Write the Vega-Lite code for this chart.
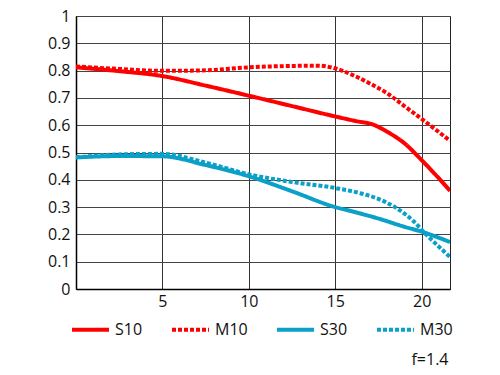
{
  "$schema": "https://vega.github.io/schema/vega-lite/v6.json",
  "width": 374,
  "height": 273,
  "autosize": "none",
  "padding": {"left": 76, "top": 16, "right": 50, "bottom": 86},
  "background": "white",
  "config": {
    "view": {"stroke": "#222", "strokeWidth": 1},
    "font": "Open Sans"
  },
  "data": {
    "values": [
      {"x": 0, "v": 0.812, "s": "S10"},
      {"x": 2.5, "v": 0.798, "s": "S10"},
      {"x": 5, "v": 0.78, "s": "S10"},
      {"x": 7.5, "v": 0.745, "s": "S10"},
      {"x": 10, "v": 0.708, "s": "S10"},
      {"x": 12.5, "v": 0.67, "s": "S10"},
      {"x": 15, "v": 0.632, "s": "S10"},
      {"x": 16.2, "v": 0.615, "s": "S10"},
      {"x": 17.2, "v": 0.602, "s": "S10"},
      {"x": 18, "v": 0.576, "s": "S10"},
      {"x": 19, "v": 0.534, "s": "S10"},
      {"x": 20, "v": 0.472, "s": "S10"},
      {"x": 21, "v": 0.405, "s": "S10"},
      {"x": 21.64, "v": 0.36, "s": "S10"},

      {"x": 0, "v": 0.815, "s": "M10"},
      {"x": 2.5, "v": 0.806, "s": "M10"},
      {"x": 5, "v": 0.799, "s": "M10"},
      {"x": 7.5, "v": 0.801, "s": "M10"},
      {"x": 10, "v": 0.812, "s": "M10"},
      {"x": 12.5, "v": 0.817, "s": "M10"},
      {"x": 14, "v": 0.818, "s": "M10"},
      {"x": 15, "v": 0.808, "s": "M10"},
      {"x": 16, "v": 0.784, "s": "M10"},
      {"x": 17, "v": 0.753, "s": "M10"},
      {"x": 18, "v": 0.717, "s": "M10"},
      {"x": 19, "v": 0.67, "s": "M10"},
      {"x": 20, "v": 0.623, "s": "M10"},
      {"x": 21.64, "v": 0.543, "s": "M10"},

      {"x": 0, "v": 0.482, "s": "S30"},
      {"x": 2.5, "v": 0.487, "s": "S30"},
      {"x": 5, "v": 0.486, "s": "S30"},
      {"x": 7.5, "v": 0.454, "s": "S30"},
      {"x": 10, "v": 0.413, "s": "S30"},
      {"x": 12.5, "v": 0.358, "s": "S30"},
      {"x": 15, "v": 0.3, "s": "S30"},
      {"x": 16, "v": 0.284, "s": "S30"},
      {"x": 17.5, "v": 0.258, "s": "S30"},
      {"x": 19, "v": 0.228, "s": "S30"},
      {"x": 20, "v": 0.21, "s": "S30"},
      {"x": 21.64, "v": 0.172, "s": "S30"},

      {"x": 0, "v": 0.482, "s": "M30"},
      {"x": 2.5, "v": 0.493, "s": "M30"},
      {"x": 5, "v": 0.495, "s": "M30"},
      {"x": 7.5, "v": 0.463, "s": "M30"},
      {"x": 10, "v": 0.42, "s": "M30"},
      {"x": 12.5, "v": 0.392, "s": "M30"},
      {"x": 15, "v": 0.37, "s": "M30"},
      {"x": 16.5, "v": 0.35, "s": "M30"},
      {"x": 17.5, "v": 0.33, "s": "M30"},
      {"x": 18.5, "v": 0.298, "s": "M30"},
      {"x": 19.5, "v": 0.25, "s": "M30"},
      {"x": 20.25, "v": 0.2, "s": "M30"},
      {"x": 21, "v": 0.155, "s": "M30"},
      {"x": 21.64, "v": 0.117, "s": "M30"}
    ]
  },
  "mark": {"type": "line", "strokeWidth": 4, "interpolate": "monotone", "clip": true},
  "encoding": {
    "x": {
      "field": "x", "type": "quantitative",
      "scale": {"domain": [0, 21.64], "nice": false, "zero": false},
      "axis": {
        "values": [5, 10, 15, 20],
        "grid": true, "gridColor": "#333", "gridWidth": 1,
        "domain": true, "domainColor": "#000", "domainWidth": 1.5,
        "ticks": false, "labelPadding": 4,
        "labelFontSize": 16, "labelFontWeight": 500, "labelColor": "#111",
        "title": "f=1.4", "titleFontSize": 16, "titleFontWeight": 500,
        "titleColor": "#111", "titleAnchor": "end", "titleAlign": "right",
        "titleX": 372, "titleY": 70, "titleBaseline": "middle"
      }
    },
    "y": {
      "field": "v", "type": "quantitative",
      "scale": {"domain": [0, 1], "nice": false},
      "axis": {
        "values": [0, 0.1, 0.2, 0.3, 0.4, 0.5, 0.6, 0.7, 0.8, 0.9, 1],
        "labelExpr": "datum.value == 0 ? '0' : datum.value == 1 ? '1' : format(datum.value, '.1f')",
        "grid": true, "gridColor": "#444", "gridWidth": 1,
        "domain": true, "domainColor": "#000", "domainWidth": 1.5,
        "ticks": false, "labelPadding": 6,
        "labelFontSize": 16, "labelFontWeight": 500, "labelColor": "#111",
        "title": null
      }
    },
    "color": {
      "field": "s", "type": "nominal",
      "scale": {"domain": ["S10", "M10", "S30", "M30"], "range": ["#ff0000", "#ff0000", "#0aa0c8", "#0aa0c8"]},
      "legend": {
        "orient": "none", "direction": "horizontal", "columns": 4,
        "legendX": -6, "legendY": 293, "title": null,
        "symbolType": "stroke", "symbolSize": 1369, "symbolStrokeWidth": 4,
        "labelFontSize": 16, "labelFontWeight": 500, "labelColor": "#111", "labelOffset": 4,
        "columnPadding": 21
      }
    },
    "strokeDash": {
      "field": "s", "type": "nominal",
      "scale": {"domain": ["S10", "M10", "S30", "M30"], "range": [[1, 0], [4, 2], [1, 0], [4, 2]]},
      "legend": null
    }
  }
}
